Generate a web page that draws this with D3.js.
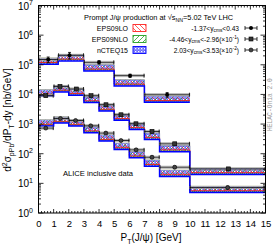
<!DOCTYPE html>
<html><head><meta charset="utf-8">
<script src="https://cdn.jsdelivr.net/npm/d3@7"></script>
<style>body{margin:0;background:#fff}svg{display:block;font-family:"Liberation Sans",Arial,sans-serif}</style>
</head><body><svg id="c" width="274" height="246"></svg>
<script>
// ---------- data ----------
const xTickVals = d3.range(0, 16);
const yTickVals = [1, 10, 100, 1e3, 1e4, 1e5, 1e6, 1e7];
const pdfNames = ["EPS09LO", "EPS09NLO", "nCTEQ15"];
const pdfLo = [0.80, 0.76, 0.70];   // band lower edge / central
const pdfHi = [1.04, 1.14, 1.10];   // band upper edge / central

// -1.37<y<0.43
const midEdges = [0, 1.3, 3, 5, 7, 10];
const midTheory = [149000, 193000, 88700, 27600, 7740];
const midData = [150000, 209000, 121000, 43000, 9770];
const midPt = [0.64, 2.05, 4.0, 6.05, 8.5];
const midErr = [0.22, 0.25, 0.13, 0.12, 0.18];
// -4.46<y<-2.96 (x0.1)
const bwdEdges = [0, 1, 2, 3, 4, 5, 6, 7, 8, 10, 15];
const bwdTheory = [12650, 17270, 13360, 7570, 3940, 1906, 946, 434, 167, 28.5];
const bwdData = [9060, 18660, 15250, 9060, 4490, 2060, 1023, 562, 216, 30.7];
const bwdPt = [0.48, 1.42, 2.5, 3.47, 4.46, 5.45, 6.44, 7.5, 9.0, 12.55];
const bwdErr = [0.06, 0.06, 0.06, 0.06, 0.07, 0.08, 0.08, 0.1, 0.1, 0.12];
// 2.03<y<3.53 (x0.01)
const fwdEdges = [0, 1, 2, 3, 4, 5, 6, 7, 8, 10, 15];
const fwdTheory = [1224, 1545, 1224, 731, 380, 199, 104, 54, 24.4, 7.0];
const fwdData = [731, 1545, 1322, 875, 496, 279, 135, 76, 35, 7.2];
const fwdPt = [0.48, 1.45, 2.45, 3.45, 4.45, 5.45, 6.45, 7.5, 9.0, 12.5];
const fwdErr = [0.06, 0.06, 0.06, 0.06, 0.07, 0.08, 0.08, 0.1, 0.1, 0.12];

const sysRel = 0.09;

// ---------- layout ----------
const svg = d3.select("#c");
const X0 = 38.5, X1 = 265.5, YT = 5.5, YB = 213;
const x = d3.scaleLinear([0, 15], [X0, X1]);
const y = d3.scaleLog([1, 1e7], [YB, YT]);

const defs = svg.append("defs");
defs.append("clipPath").attr("id", "clip").append("rect")
  .attr("x", X0).attr("y", YT).attr("width", X1 - X0).attr("height", YB - YT);
// patterns
const pB = defs.append("pattern").attr("id", "pB").attr("patternUnits", "userSpaceOnUse")
  .attr("width", 3).attr("height", 3);
pB.append("rect").attr("width", 3).attr("height", 3).attr("fill", "#6a6aff");
pB.append("rect").attr("x", 0).attr("y", 0).attr("width", 1.3).attr("height", 1.3).attr("fill", "#fff");
pB.append("rect").attr("x", 1.5).attr("y", 1.5).attr("width", 1.0).attr("height", 1.0).attr("fill", "#dde");
const pG = defs.append("pattern").attr("id", "pG").attr("patternUnits", "userSpaceOnUse")
  .attr("width", 5).attr("height", 5);
pG.append("path").attr("d", "M0,5L5,0M-1,1L1,-1M4,6L6,4").attr("stroke", "#2a9a2a").attr("stroke-width", 0.8);
const pR = defs.append("pattern").attr("id", "pR").attr("patternUnits", "userSpaceOnUse")
  .attr("width", 5).attr("height", 5);
pR.append("path").attr("d", "M0,0L5,5M-1,4L1,6M4,-1L6,1").attr("stroke", "#ff3030").attr("stroke-width", 0.8);
const fills = ["url(#pR)", "url(#pG)", "url(#pB)"];
const strokes = ["#ff2020", "#20a020", "#0000ff"];

const plot = svg.append("g").attr("clip-path", "url(#clip)");

const series = [
  { edges: midEdges, th: midTheory, data: midData, pt: midPt, err: midErr, mk: "circle" },
  { edges: bwdEdges, th: bwdTheory, data: bwdData, pt: bwdPt, err: bwdErr, mk: "square" },
  { edges: fwdEdges, th: fwdTheory, data: fwdData, pt: fwdPt, err: fwdErr, mk: "ocircle" }
];

const stepLine = d3.line().x(d => x(d[0])).y(d => y(d[1])).curve(d3.curveStepAfter);
function stepPts(edges, vals) {
  const p = vals.map((v, i) => [edges[i], v]);
  p.push([edges[edges.length - 1], vals[vals.length - 1]]);
  return p;
}

// bands: draw nCTEQ15 first, then EPS09NLO, EPS09LO
series.forEach(s => {
  [2, 1, 0].forEach(p => {
    s.th.forEach((t, i) => {
      plot.append("rect")
        .attr("x", x(s.edges[i])).attr("width", x(s.edges[i + 1]) - x(s.edges[i]))
        .attr("y", y(t * pdfHi[p])).attr("height", y(t * pdfLo[p]) - y(t * pdfHi[p]))
        .attr("fill", fills[p]);
    });
  });
  plot.append("path").attr("d", stepLine(stepPts(s.edges, s.th.map(t => t * pdfHi[1]))))
    .attr("fill", "none").attr("stroke", "#9aa070").attr("stroke-width", 0.8);
  plot.append("path").attr("d", stepLine(stepPts(s.edges, s.th.map(t => t * pdfHi[2]))))
    .attr("fill", "none").attr("stroke", "#7070ff").attr("stroke-width", 0.6);
  plot.append("path").attr("d", stepLine(stepPts(s.edges, s.th.map(t => t * pdfLo[0]))))
    .attr("fill", "none").attr("stroke", "#ff2020").attr("stroke-width", 1);
  plot.append("path").attr("d", stepLine(stepPts(s.edges, s.th.map(t => t * pdfLo[1]))))
    .attr("fill", "none").attr("stroke", "#20a020").attr("stroke-width", 0.9).attr("stroke-dasharray", "1,1");
  plot.append("path").attr("d", stepLine(stepPts(s.edges, s.th.map(t => t * pdfLo[2]))))
    .attr("fill", "none").attr("stroke", "#0000ff").attr("stroke-width", 1.5);
});

// data
series.forEach(s => {
  const g = plot.append("g");
  s.data.forEach((v, i) => {
    const xa = x(s.edges[i]), xb = x(s.edges[i + 1]), xp = x(s.pt[i]), yp = y(v);
    g.append("rect").attr("x", xa).attr("width", xb - xa)
      .attr("y", y(v * (1 + sysRel))).attr("height", y(v / (1 + sysRel)) - y(v * (1 + sysRel)))
      .attr("fill", "#d0d0d0").attr("fill-opacity", 0.35).attr("stroke", "#a8a8a8").attr("stroke-width", 0.7);
    g.append("line").attr("x1", xa).attr("x2", xb).attr("y1", yp).attr("y2", yp).attr("stroke", "#000").attr("stroke-width", 0.8);
    [xa + 0.4, xb - 0.4].forEach(xx => g.append("line").attr("x1", xx).attr("x2", xx)
      .attr("y1", yp - 2).attr("y2", yp + 2).attr("stroke", "#000").attr("stroke-width", 0.8));
    const ya = y(v * (1 + s.err[i])), yb = y(v * (1 - s.err[i]));
    g.append("line").attr("x1", xp).attr("x2", xp).attr("y1", ya).attr("y2", yb).attr("stroke", "#000").attr("stroke-width", 0.8);
    [ya, yb].forEach(yy => g.append("line").attr("x1", xp - 1.5).attr("x2", xp + 1.5)
      .attr("y1", yy).attr("y2", yy).attr("stroke", "#000").attr("stroke-width", 0.8));
    drawMarker(g, s.mk, xp, yp);
  });
});

function drawMarker(g, mk, cx, cy) {
  if (mk === "circle") g.append("circle").attr("cx", cx).attr("cy", cy).attr("r", 2).attr("fill", "#000");
  else if (mk === "square") g.append("rect").attr("x", cx - 2).attr("y", cy - 2).attr("width", 4).attr("height", 4)
    .attr("fill", "#333").attr("stroke", "#000").attr("stroke-width", 0.6);
  else g.append("circle").attr("cx", cx).attr("cy", cy).attr("r", 2).attr("fill", "#444").attr("stroke", "#000").attr("stroke-width", 0.6);
}

// ---------- axes ----------
const ax = svg.append("g").attr("stroke", "#000").attr("stroke-width", 0.8);
d3.range(0, 15.01, 0.2).forEach(v => {
  const major = Math.abs(v - Math.round(v)) < 1e-6;
  const len = major ? 4 : 2;
  const xx = x(v);
  ax.append("line").attr("x1", xx).attr("x2", xx).attr("y1", YB).attr("y2", YB - len);
  ax.append("line").attr("x1", xx).attr("x2", xx).attr("y1", YT).attr("y2", YT + len);
});
for (let e = 0; e < 7; e++) {
  for (let m = 1; m < 10; m++) {
    const v = m * Math.pow(10, e);
    const len = m === 1 ? 5 : 2.5;
    const yy = y(v);
    ax.append("line").attr("x1", X0).attr("x2", X0 + len).attr("y1", yy).attr("y2", yy);
    ax.append("line").attr("x1", X1).attr("x2", X1 - len).attr("y1", yy).attr("y2", yy);
  }
}
// frame
svg.append("rect").attr("x", X0).attr("y", YT).attr("width", X1 - X0).attr("height", YB - YT)
  .attr("fill", "none").attr("stroke", "#000").attr("stroke-width", 1);

// x tick labels
const xAxisG = svg.append("g").attr("transform", `translate(0,${YB})`)
  .call(d3.axisBottom(x).tickValues(xTickVals).tickSize(0).tickPadding(0).tickFormat(d3.format("d")));
xAxisG.select(".domain").remove();
xAxisG.selectAll("text").attr("font-family", "Liberation Sans, Arial, sans-serif")
  .attr("font-size", 9.5).attr("fill", "#000").attr("dy", "0").attr("y", 14);

// y tick labels
yTickVals.forEach(v => {
  const e = Math.round(Math.log10(v));
  const t = svg.append("text").attr("x", 33).attr("y", y(v) + 4).attr("text-anchor", "end")
    .attr("font-size", 10).attr("fill", "#000");
  t.append("tspan").text("10");
  t.append("tspan").attr("dy", -4.5).attr("font-size", 7).text(e);
});

// axis titles
const xt = svg.append("text").attr("x", 151).attr("y", 241).attr("text-anchor", "middle").attr("font-size", 10);
xt.append("tspan").text("P");
xt.append("tspan").attr("dy", 2.5).attr("font-size", 7).text("T");
xt.append("tspan").attr("dy", -2.5).text("(J/ψ) [GeV]");

const yt = svg.append("text").attr("transform", "translate(11,120) rotate(-90)")
  .attr("text-anchor", "middle").attr("font-size", 10);
yt.append("tspan").text("d");
yt.append("tspan").attr("dy", -4).attr("font-size", 7).text("2");
yt.append("tspan").attr("dy", 4).text("σ");
yt.append("tspan").attr("dy", 2.5).attr("font-size", 7).text("pPb");
yt.append("tspan").attr("dy", -2.5).text("/dP");
yt.append("tspan").attr("dy", 2.5).attr("font-size", 7).text("T");
yt.append("tspan").attr("dy", -2.5).text("-dy [nb/GeV]");

// annotation
svg.append("text").attr("x", 98).attr("y", 176).attr("text-anchor", "middle")
  .attr("font-size", 7.6).attr("fill", "#000").text("ALICE inclusive data");

svg.append("text").attr("transform", "translate(272,131) rotate(-90)")
  .attr("font-family", "Liberation Mono, DejaVu Sans Mono, monospace").attr("font-size", 6.3)
  .attr("fill", "#999").text("HELAC-Onia 2.0");

// title
const tt = svg.append("text").attr("x", 84).attr("y", 19.5).attr("font-size", 7.4);
tt.append("tspan").text("Prompt J/ψ production at √s");
tt.append("tspan").attr("dy", 2).attr("font-size", 5.2).text("NN");
tt.append("tspan").attr("dy", -2).text("=5.02 TeV LHC");

// PDF legend
const rowsY = [28, 39, 50];
pdfNames.forEach((n, i) => {
  svg.append("text").attr("x", 128).attr("y", rowsY[i] + 2.6).attr("text-anchor", "end")
    .attr("font-size", 7).text(n);
  svg.append("rect").attr("x", 133).attr("y", rowsY[i] - 3.5).attr("width", 13).attr("height", 7)
    .attr("fill", i === 2 ? "url(#pB)" : "#fff").attr("stroke", strokes[i]).attr("stroke-width", 0.9);
  if (i < 2) svg.append("rect").attr("x", 133).attr("y", rowsY[i] - 3.5).attr("width", 13).attr("height", 7)
    .attr("fill", fills[i]);
});

// rapidity legend
const rapLab = [
  ["-1.37<y", "cms", "<0.43", null],
  ["-4.46<y", "cms", "<-2.96(×10", "-1"],
  ["2.03<y", "cms", "<3.53(×10", "-2"]
];
rapLab.forEach((r, i) => {
  const t = svg.append("text").attr("x", 239).attr("y", rowsY[i] + 2.6).attr("text-anchor", "end").attr("font-size", 6.6);
  t.append("tspan").text(r[0]);
  t.append("tspan").attr("dy", 1.8).attr("font-size", 4.8).text(r[1]);
  t.append("tspan").attr("dy", -1.8).text(r[2]);
  if (r[3]) {
    t.append("tspan").attr("dy", -2.8).attr("font-size", 4.8).text(r[3]);
    t.append("tspan").attr("dy", 2.8).text(")");
  }
  const g = svg.append("g");
  const cx = 251, cy = rowsY[i];
  g.append("line").attr("x1", cx - 6).attr("x2", cx + 6).attr("y1", cy).attr("y2", cy).attr("stroke", "#000").attr("stroke-width", 0.8);
  [cx - 6, cx + 6].forEach(xx => g.append("line").attr("x1", xx).attr("x2", xx).attr("y1", cy - 2).attr("y2", cy + 2)
    .attr("stroke", "#000").attr("stroke-width", 0.8));
  drawMarker(g, series[i].mk, cx, cy);
});
</script></body></html>
